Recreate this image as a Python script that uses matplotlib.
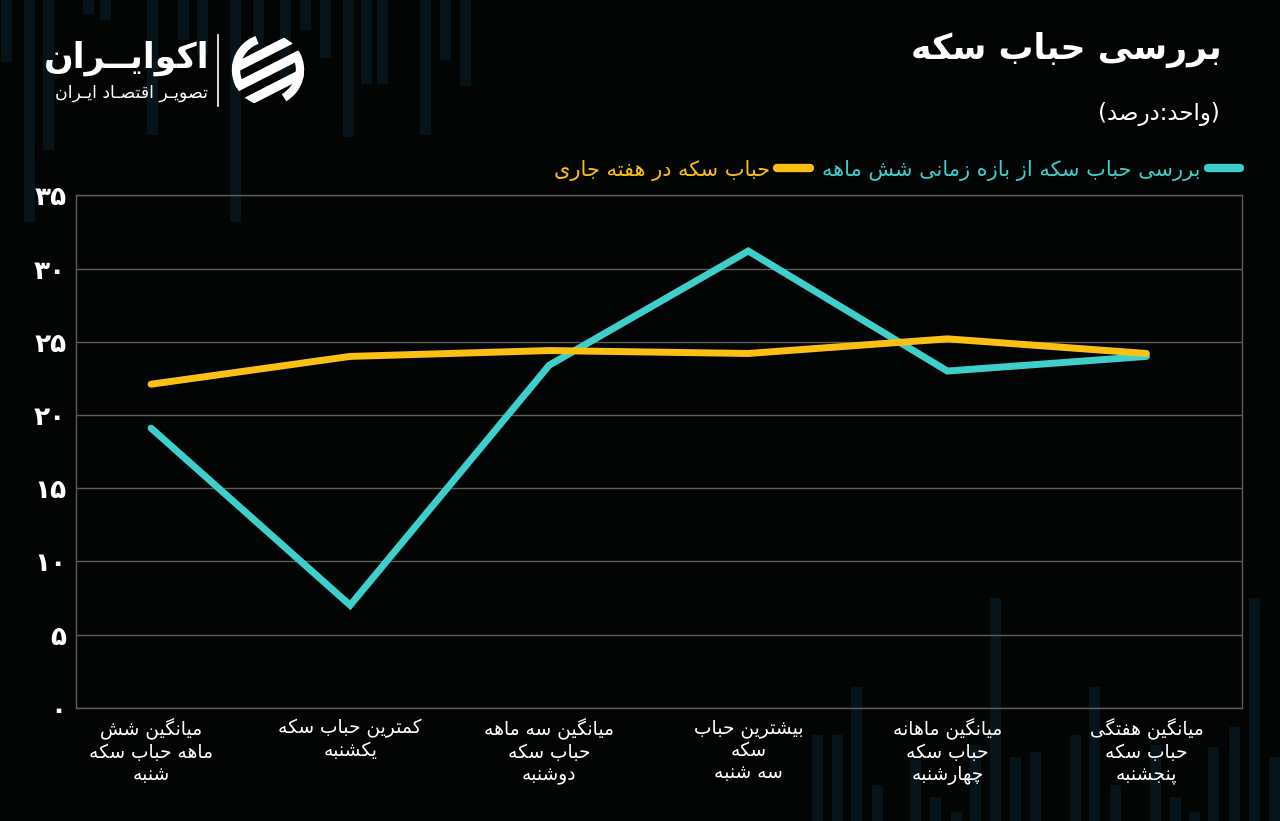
import matplotlib
matplotlib.use("Agg")
import matplotlib.pyplot as plt
from matplotlib.patches import Circle, Polygon, Arc

plt.rcParams['font.family'] = ['DejaVu Sans']

# chart data
categories = [
    "میانگین شش\nماهه حباب سکه\nشنبه",
    "کمترین حباب سکه\nیکشنبه",
    "میانگین سه ماهه\nحباب سکه\nدوشنبه",
    "بیشترین حباب\nسکه\nسه شنبه",
    "میانگین ماهانه\nحباب سکه\nچهارشنبه",
    "میانگین هفتگی\nحباب سکه\nپنجشنبه",
]
six_month = [19.1, 7.0, 23.4, 31.2, 23.0, 24.0]
this_week = [22.1, 24.0, 24.4, 24.2, 25.2, 24.2]
y_ticks = [0, 5, 10, 15, 20, 25, 30, 35]
y_tick_labels = ["۰", "۵", "۱۰", "۱۵", "۲۰", "۲۵", "۳۰", "۳۵"]
label_six_month = "بررسی حباب سکه از بازه زمانی شش ماهه"
label_this_week = "حباب سکه در هفته جاری"
title = "بررسی حباب سکه"
subtitle = "(واحد:درصد)"
brand = "اکوایــران"
brand_sub = "تصویـر اقتصـاد ایـران"

# faint background bars (pixel columns, lengths)
top_bar_x = [6, 29, 48, 88, 105, 152, 183, 202, 235, 258, 285, 305, 325, 348, 366, 382, 425, 445, 465]
top_bar_len = [62, 222, 150, 14, 20, 135, 40, 55, 222, 60, 78, 30, 58, 137, 84, 84, 135, 60, 86]
bot_bar_x = [817, 837, 856, 877, 915, 935, 956, 975, 995, 1015, 1035, 1075, 1094, 1115, 1155, 1175, 1194, 1213, 1234, 1254, 1274]
bot_bar_top = [735, 735, 687, 785, 760, 797, 812, 745, 598, 757, 752, 735, 687, 785, 745, 797, 812, 747, 727, 598, 757]

TEAL = "#3ecfca"
YELLOW = "#fcc015"
BG = "#030404"
BAR = "#071419"

FORMS = {
    'ا': ('\uFE8D', '\uFE8E', None, None),
    'ب': ('\uFE8F', '\uFE90', '\uFE91', '\uFE92'),
    'پ': ('\uFB56', '\uFB57', '\uFB58', '\uFB59'),
    'ت': ('\uFE95', '\uFE96', '\uFE97', '\uFE98'),
    'ج': ('\uFE9D', '\uFE9E', '\uFE9F', '\uFEA0'),
    'چ': ('\uFB7A', '\uFB7B', '\uFB7C', '\uFB7D'),
    'ح': ('\uFEA1', '\uFEA2', '\uFEA3', '\uFEA4'),
    'د': ('\uFEA9', '\uFEAA', None, None),
    'ر': ('\uFEAD', '\uFEAE', None, None),
    'ز': ('\uFEAF', '\uFEB0', None, None),
    'س': ('\uFEB1', '\uFEB2', '\uFEB3', '\uFEB4'),
    'ش': ('\uFEB5', '\uFEB6', '\uFEB7', '\uFEB8'),
    'ص': ('\uFEB9', '\uFEBA', '\uFEBB', '\uFEBC'),
    'ط': ('\uFEC1', '\uFEC2', '\uFEC3', '\uFEC4'),
    'ف': ('\uFED1', '\uFED2', '\uFED3', '\uFED4'),
    'ق': ('\uFED5', '\uFED6', '\uFED7', '\uFED8'),
    'ک': ('\uFB8E', '\uFB8F', '\uFB90', '\uFB91'),
    'گ': ('\uFB92', '\uFB93', '\uFB94', '\uFB95'),
    'ل': ('\uFEDD', '\uFEDE', '\uFEDF', '\uFEE0'),
    'م': ('\uFEE1', '\uFEE2', '\uFEE3', '\uFEE4'),
    'ن': ('\uFEE5', '\uFEE6', '\uFEE7', '\uFEE8'),
    'و': ('\uFEED', '\uFEEE', None, None),
    'ه': ('\uFEE9', '\uFEEA', '\uFEEB', '\uFEEC'),
    'ی': ('\uFBFC', '\uFBFD', '\uFBFE', '\uFBFF'),
    'ـ': ('ـ', 'ـ', 'ـ', 'ـ'),
}


def shape_line(line):
    """join persian letters and put them in visual (left to right) order"""
    out = []
    for i, c in enumerate(line):
        if c not in FORMS:
            out.append(c)
            continue
        prev = line[i - 1] if i > 0 else None
        nxt = line[i + 1] if i + 1 < len(line) else None
        join_prev = prev in FORMS and FORMS[prev][2] is not None
        join_next = nxt in FORMS and FORMS[c][2] is not None
        iso, fin, ini, med = FORMS[c]
        if join_prev and join_next:
            out.append(med)
        elif join_prev:
            out.append(fin)
        elif join_next:
            out.append(ini)
        else:
            out.append(iso)
    vis = ''.join(reversed(out))
    return vis.translate(str.maketrans('()', ')('))


def fa(text):
    return '\n'.join(shape_line(l) for l in text.split('\n'))


fig = plt.figure(figsize=(12.8, 8.21), dpi=100, facecolor=BG)

# background decoration
bg = fig.add_axes([0, 0, 1, 1])
bg.set_xlim(0, 1280)
bg.set_ylim(821, 0)
bg.axis('off')
bg.bar(top_bar_x, top_bar_len, width=11, bottom=0, color=BAR, zorder=0)
bg.bar(bot_bar_x, [821 - t for t in bot_bar_top], width=11, bottom=bot_bar_top,
       color=BAR, zorder=0)

# logo
bg.text(210, 58, fa(brand), color='white', fontsize=25, fontweight='bold',
        ha='right', va='center')
bg.text(208, 93, fa(brand_sub), color='white', fontsize=12.5,
        ha='right', va='center')
bg.plot([218, 218], [35, 106], color='white', lw=1.2)
ring = Circle((268, 70), 36, transform=bg.transData)
bg.add_patch(Arc((268, 70), 64, 64, theta1=150, theta2=250, color='white', lw=6))
bg.add_patch(Arc((268, 70), 64, 64, theta1=330, theta2=60, color='white', lw=6))
for dy in (-20, 0, 20):
    p = Polygon([(220, 70 + dy + 30), (220, 70 + dy + 21),
                 (320, 70 + dy - 30), (320, 70 + dy - 21)],
                closed=True, color='white')
    bg.add_patch(p)
    p.set_clip_path(ring)

# titles
bg.text(1222, 50, fa(title), color='white', fontsize=25, fontweight='bold',
        ha='right', va='center')
bg.text(1220, 114, fa(subtitle), color='white', fontsize=16.5,
        ha='right', va='center')

# main chart
ax = fig.add_axes([0.0594, 0.138, 0.9109, 0.624])
ax.patch.set_alpha(0)
x = list(range(len(categories)))
ax.plot(x, six_month, color=TEAL, lw=5, solid_capstyle='round',
        solid_joinstyle='miter', label=fa(label_six_month), zorder=3)
ax.plot(x, this_week, color=YELLOW, lw=5, solid_capstyle='round',
        solid_joinstyle='miter', label=fa(label_this_week), zorder=4)

ax.set_xlim(-0.377, 5.48)
ax.set_ylim(0, 35)
ax.set_yticks(y_ticks)
ax.set_yticklabels(y_tick_labels, color='white', fontsize=19, fontweight='bold')
ax.set_xticks(x)
ax.set_xticklabels([fa(c) for c in categories], color='white', fontsize=13.4,
                   linespacing=1.2)
ax.tick_params(axis='y', length=0, pad=7)
ax.tick_params(axis='x', length=0, pad=8)
ax.yaxis.grid(True, color='#5c5c5c', lw=1)
ax.set_axisbelow(True)
for s in ax.spines.values():
    s.set_color('#5c5c5c')
    s.set_linewidth(1)

handles, labels = ax.get_legend_handles_labels()
leg = fig.legend(handles[::-1], labels[::-1], loc='center right',
                 bbox_to_anchor=(1240 / 1280, 1 - 170 / 821), ncol=2,
                 frameon=False, markerfirst=False, fontsize=15,
                 handlelength=1.55, handletextpad=0.34, columnspacing=0.6,
                 borderpad=0, borderaxespad=0, labelcolor='linecolor')
for line in leg.get_lines():
    line.set_linewidth(6)

fig.savefig("out.png", dpi=100, facecolor=BG)
